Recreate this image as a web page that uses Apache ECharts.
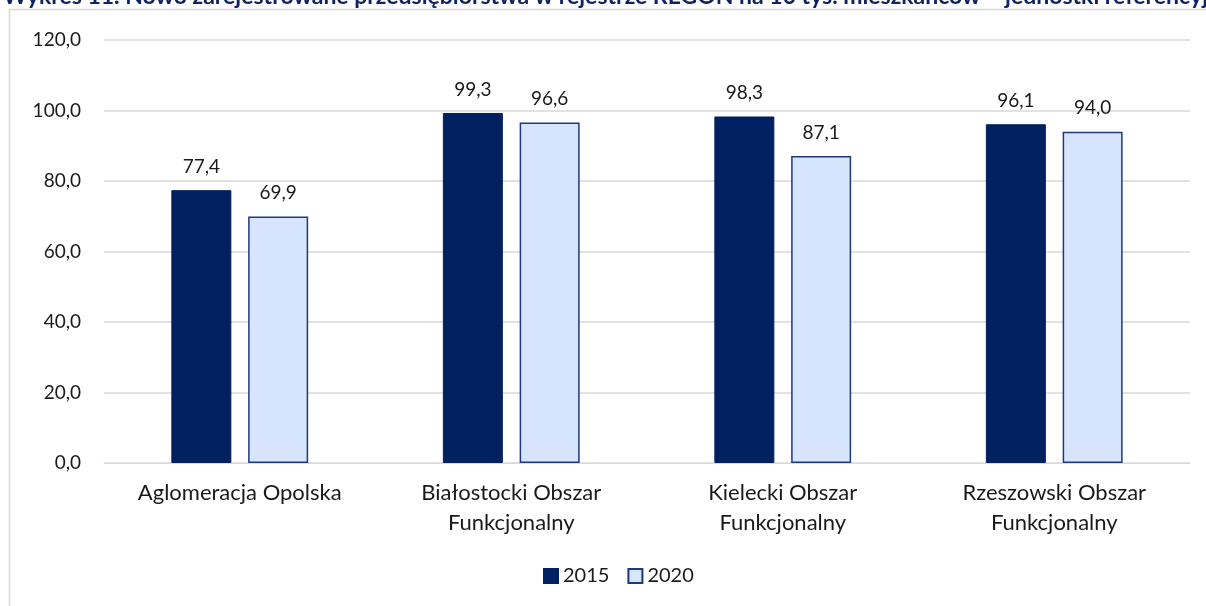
<!DOCTYPE html>
<html>
<head>
<meta charset="utf-8">
<script src="https://cdn.jsdelivr.net/npm/echarts@6/dist/echarts.min.js"></script>
<style>html,body{margin:0;padding:0;background:#fff}#c{width:1206px;height:606px}</style>
</head>
<body>
<div id="c"></div>
<script>
const titleText = 'Wykres 11. Nowo zarejestrowane przedsiębiorstwa w rejestrze REGON na 10 tys. mieszkańców – jednostki referencyjne';
const categories = ['Aglomeracja Opolska', 'Białostocki Obszar\nFunkcjonalny', 'Kielecki Obszar\nFunkcjonalny', 'Rzeszowski Obszar\nFunkcjonalny'];
const seriesNames = ['2015', '2020'];
const values2015 = [77.4, 99.3, 98.3, 96.1];
const values2020 = [69.9, 96.6, 87.1, 94.0];

const chart = echarts.init(document.getElementById('c'));
const fmt = v => v.toFixed(1).replace('.', ',');
const font = 'Lato, "Liberation Sans", sans-serif';
chart.setOption({
  animation: false,
  textStyle: { fontFamily: font },
  title: {
    text: titleText, left: -2, top: -20,
    textStyle: { fontFamily: font, fontSize: 23, fontWeight: 'bold', color: '#0F2460' }
  },
  graphic: [{
    type: 'rect', shape: { x: 9.5, y: 9.5, width: 1300, height: 700 },
    style: { fill: 'none', stroke: '#D9D9D9', lineWidth: 1.5 }, silent: true, z: -1
  }],
  legend: {
    data: seriesNames, bottom: 15, left: 538, itemWidth: 14, itemHeight: 14, itemGap: 18,
    icon: 'rect',
    textStyle: { fontSize: 20, color: '#1a1a1a', fontFamily: font }
  },
  grid: { left: 104, right: 16, top: 40, bottom: 143 },
  xAxis: {
    type: 'category', data: categories,
    axisLine: { lineStyle: { color: '#D9D9D9' } }, axisTick: { show: false },
    axisLabel: { fontSize: 22, color: '#1a1a1a', lineHeight: 30, margin: 15, fontFamily: font, interval: 0 }
  },
  yAxis: {
    type: 'value', min: 0, max: 120, interval: 20,
    axisLabel: { fontSize: 19, color: '#1a1a1a', margin: 23, formatter: v => fmt(v), fontFamily: font },
    splitLine: { lineStyle: { color: '#D9D9D9', width: 1.5 } }, axisLine: { show: false }, axisTick: { show: false }
  },
  series: [
    { name: seriesNames[0], type: 'bar', data: values2015, barWidth: 60, barGap: '28%',
      itemStyle: { color: '#002060', borderColor: '#002060', borderWidth: 1 },
      label: { show: true, position: 'top', distance: 14, fontSize: 19, color: '#1a1a1a', formatter: p => fmt(p.value), fontFamily: font } },
    { name: seriesNames[1], type: 'bar', data: values2020, barWidth: 60,
      itemStyle: { color: '#D6E4FC', borderColor: '#1F3A7A', borderWidth: 1.5 },
      label: { show: true, position: 'top', distance: 14, fontSize: 19, color: '#1a1a1a', formatter: p => fmt(p.value), fontFamily: font } }
  ]
});
</script>
</body>
</html>
